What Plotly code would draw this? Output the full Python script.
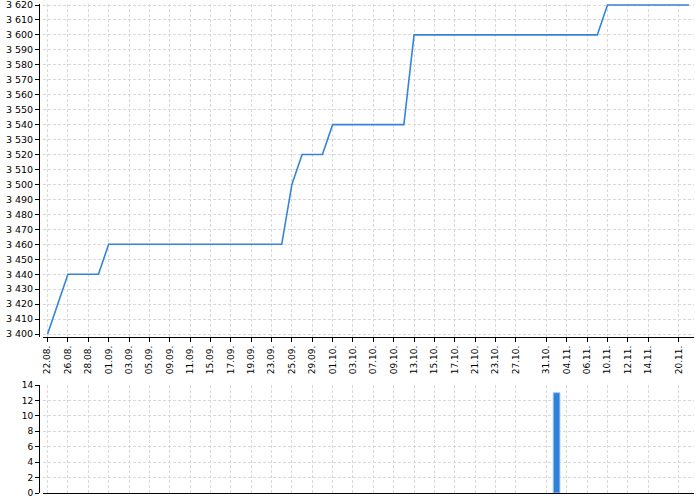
import plotly.graph_objects as go

dates = [
    "22.08", "25.08", "26.08", "27.08", "28.08", "29.08",
    "01.09", "02.09", "03.09", "04.09", "05.09",
    "08.09", "09.09", "10.09", "11.09", "12.09",
    "15.09", "16.09", "17.09", "18.09", "19.09",
    "22.09", "23.09", "24.09", "25.09", "26.09",
    "29.09", "30.09", "01.10", "02.10", "03.10",
    "06.10", "07.10", "08.10", "09.10", "10.10",
    "13.10", "14.10", "15.10", "16.10", "17.10",
    "20.10", "21.10", "22.10", "23.10", "24.10",
    "27.10", "28.10", "30.10", "31.10",
    "03.11", "04.11", "05.11", "06.11", "07.11",
    "10.11", "11.11", "12.11", "13.11", "14.11",
    "17.11", "19.11", "20.11", "21.11",
]

prices = [
    3400, 3420, 3440, 3440, 3440, 3440,
    3460, 3460, 3460, 3460, 3460,
    3460, 3460, 3460, 3460, 3460,
    3460, 3460, 3460, 3460, 3460,
    3460, 3460, 3460, 3500, 3520,
    3520, 3520, 3540, 3540, 3540,
    3540, 3540, 3540, 3540, 3540,
    3600, 3600, 3600, 3600, 3600,
    3600, 3600, 3600, 3600, 3600,
    3600, 3600, 3600, 3600,
    3600, 3600, 3600, 3600, 3600,
    3620, 3620, 3620, 3620, 3620,
    3620, 3620, 3620, 3620,
]

volume_dates = ["03.11"]
volumes = [13]

tick_dates = [
    "22.08", "26.08", "28.08", "01.09", "03.09", "05.09", "09.09", "11.09",
    "15.09", "17.09", "19.09", "23.09", "25.09", "29.09", "01.10", "03.10",
    "07.10", "09.10", "13.10", "15.10", "17.10", "21.10", "23.10", "27.10",
    "31.10", "04.11", "06.11", "10.11", "12.11", "14.11", "20.11",
]
tick_labels = [d + "." for d in tick_dates]

W, H = 700, 500
LINE_COLOR = "#3484d9"
GRID = "#d9d9d9"
FONT = dict(family="DejaVu Sans", size=9.5, color="#000000")

fig = go.Figure()
fig.add_trace(go.Scatter(
    x=dates, y=prices, mode="lines",
    line=dict(color=LINE_COLOR, width=1.6),
    xaxis="x", yaxis="y", hoverinfo="x+y",
))
fig.add_trace(go.Bar(
    x=volume_dates, y=volumes,
    marker=dict(color="#2f80d8", line=dict(color="rgba(160,200,245,0.9)", width=1)),
    width=0.66, xaxis="x2", yaxis="y2",
))

x_left = 43 / W
x_right = 694 / W
y_axis_pos = 39 / W
xrange = [-0.45, len(dates) - 0.5]

common_x = dict(
    type="category", categoryorder="array", categoryarray=dates,
    range=xrange, domain=[x_left, x_right],
    tickmode="array", tickvals=tick_dates,
    showgrid=True, gridcolor=GRID, griddash="3px,2px", gridwidth=1,
    showline=True, linecolor="#000000", linewidth=1,
    ticks="outside", ticklen=4, tickcolor="#000000",
    zeroline=False, fixedrange=True, automargin=False,
    ticklabeloverflow="allow",
)
common_y = dict(
    showgrid=True, gridcolor=GRID, griddash="3px,2px", gridwidth=1,
    showline=True, linecolor="#000000", linewidth=1,
    ticks="outside", ticklen=4, tickcolor="#000000",
    zeroline=False, anchor="free", position=y_axis_pos, fixedrange=True,
    automargin=False, ticklabeloverflow="allow",
)

fig.update_layout(
    width=W, height=H,
    margin=dict(l=0, r=0, t=0, b=0, pad=0),
    paper_bgcolor="white", plot_bgcolor="white",
    showlegend=False,
    separators=", ",
    font=FONT,
    xaxis=dict(common_x, anchor="y", ticktext=tick_labels, tickangle=-90,
               tickfont=dict(family="DejaVu Sans", size=9, color="#000000")),
    yaxis=dict(common_y, domain=[1 - 337 / H, 1 - 3.5 / H], range=[3398, 3621],
               tickmode="linear", tick0=3400, dtick=10, tickformat=",d",
               tickfont=dict(family="DejaVu Sans", size=9.5, color="#000000")),
    xaxis2=dict(common_x, anchor="y2", showticklabels=False, ticks=""),
    yaxis2=dict(common_y, domain=[1 - 493 / H, 1 - 385 / H], range=[0, 14],
                tickmode="linear", tick0=0, dtick=2,
                tickfont=dict(family="DejaVu Sans", size=9, color="#000000")),
)

fig.write_html(
    "out.html",
    config={"displayModeBar": False},
    post_script="document.body.style.margin='0';document.body.style.overflow='hidden';",
)
